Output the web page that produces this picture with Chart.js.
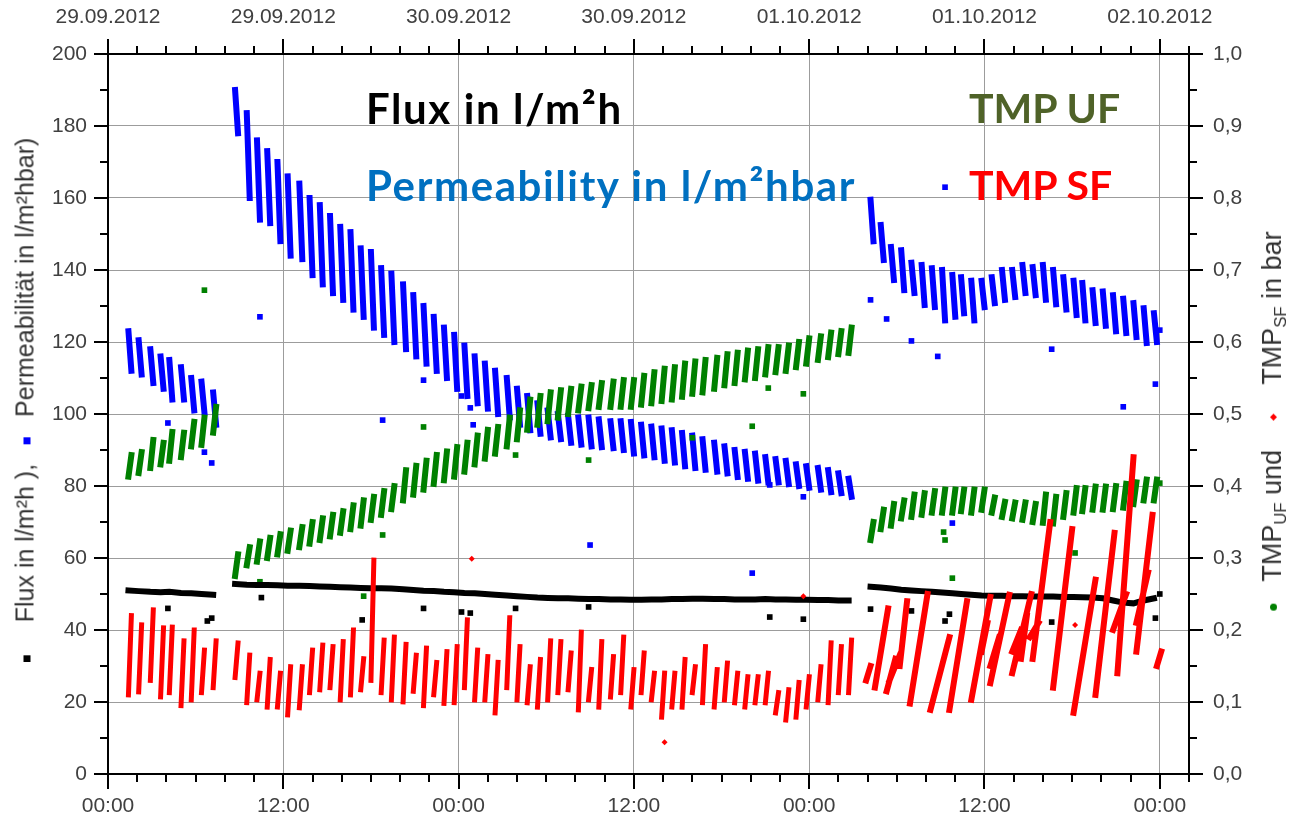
<!DOCTYPE html>
<html>
<head>
<meta charset="utf-8">
<script src="https://cdn.jsdelivr.net/npm/chart.js@4.4.1/dist/chart.umd.min.js"></script>
<style>
  body { margin:0; background:#fff; }
  #wrap { position:relative; width:1292px; height:821px; }
  canvas { position:absolute; left:0; top:0; }
  .note { position:absolute; font-family:Lato, 'Open Sans', sans-serif; font-weight:700; font-size:42px; line-height:48px; letter-spacing:1.6px; white-space:nowrap; }
  .atitle { position:absolute; font-family:'Liberation Sans', Arial, sans-serif; font-size:25px; color:#333; white-space:nowrap;
            transform:translate(-50%,-50%) rotate(-90deg); }
  .mk { display:inline-block; width:7px; height:7px; vertical-align:middle; }
  sub { font-size:0.62em; vertical-align:-0.3em; }
</style>
</head>
<body>
<div id="wrap">
  <canvas id="chart" width="1292" height="821"></canvas>
  <div class="note" style="left:366px;top:84px;color:#000">Flux in l/m²h</div>
  <div class="note" style="left:366px;top:161px;color:#0070c0">Permeability in l/m²hbar</div>
  <div class="note" style="left:969px;top:84px;color:#4f6228;font-size:41px;letter-spacing:0">TMP UF</div>
  <div class="note" style="left:969px;top:161px;color:#ff0000;font-size:41px;letter-spacing:0">TMP SF</div>
  <div class="atitle" style="left:25px;top:400px">
    <span class="mk" style="background:#000"></span><span style="margin:0 20px 0 33px">Flux in l/m²h ),</span><span class="mk" style="background:#0000ff"></span><span style="margin-left:20px">Permeabilität in l/m²hbar)</span>
  </div>
  <div class="atitle" style="left:1274px;top:421px;font-size:27px">
    <span class="mk" style="background:#008000;border-radius:50%"></span><span style="margin:0 30px 0 22px">TMP<sub>UF</sub> und</span><span class="mk" style="background:#ff0000;width:5px;height:5px;transform:rotate(45deg)"></span><span style="margin-left:30px">TMP<sub>SF</sub> in bar</span>
  </div>
</div>
<script>
// hours since 29.09.2012 00:00, one entry per filtration cycle
const cycleStart = [
  1.4, 2.1, 2.9, 3.6, 4.2, 5.0, 5.7, 6.4, 7.2,
  8.7, 9.5, 10.2, 10.9, 11.6, 12.3, 13.1, 13.8, 14.5, 15.2, 15.9, 16.6, 17.3, 18.0, 18.7, 19.4,
  20.2, 20.9, 21.6, 22.3, 23.0, 23.7, 24.4, 25.1, 25.8, 26.5, 27.3, 28.0, 28.7, 29.4, 30.1, 30.8,
  31.5, 32.2, 32.9, 33.6, 34.4, 35.1, 35.8, 36.5, 37.2, 37.9, 38.6, 39.3, 40.0, 40.7, 41.5, 42.2,
  42.9, 43.6, 44.3, 45.0, 45.7, 46.4, 47.1, 47.8, 48.6, 49.3, 50.0, 50.7,
  52.2, 52.9, 53.6, 54.3, 55.0, 55.7, 56.4, 57.1, 57.8, 58.4, 59.1, 59.8, 60.5, 61.2, 61.9, 62.6,
  63.3, 64.0, 64.7, 65.4, 66.1, 66.7, 67.4, 68.1, 68.8, 69.5, 70.2, 70.9, 71.6
];
const filtHours = 0.2;

// permeability l/m²hbar, value at cycle start / cycle end
const permStart = [
  123, 120.5, 118, 116, 115, 113, 110, 109, 106,
  190, 183.6, 176, 173, 170, 166, 164, 160, 158, 155, 152, 150.5, 146, 145, 140.5, 139,
  136, 133, 130, 127, 124, 122, 119, 116, 114, 112, 110, 107, 105, 103, 101, 100,
  99.5, 99, 99, 98.5, 98, 98, 97.8, 97, 96.5, 96, 95.5, 94.7, 94, 93, 92, 91,
  90, 89.5, 89, 88, 87.5, 87, 86, 85.5, 85, 84.4, 83.5, 82,
  159.5, 152.5, 146.4, 145.5, 142, 141.4, 140.5, 140, 138.6, 138, 137, 137, 138, 140, 140, 141.4,
  140.8, 141.4, 140, 138, 137, 136.4, 134.4, 134, 133, 132, 130.8, 129.4, 128
];
const permEnd = [
  112, 111, 108.6, 107, 104, 104, 101, 100.5, 97,
  178, 160, 154, 153, 148, 144, 143, 138.6, 136, 133.6, 131.7, 129, 127, 124, 122, 120,
  118, 116, 114, 112, 110, 107, 105, 103, 101.5, 100, 99, 97, 95.5, 94.5, 93.5, 93,
  92, 91.5, 91, 90.8, 90.5, 90, 89, 88.5, 88, 87, 86.5, 85.5, 85, 84.5, 84, 83.5,
  82.5, 82, 81.5, 81, 81, 80.5, 80, 79.5, 79, 78.3, 78, 77,
  148, 142.8, 137.2, 134.4, 133.6, 130.3, 129.7, 126, 127, 128, 126, 129.7, 130.8, 131.7, 132.5, 133.6,
  133, 131.7, 130.5, 129, 127.5, 126, 125.3, 124.5, 123, 122.5, 121.4, 119.7, 120
];

// TMP UF in bar
const ufStart = [
  0.413, 0.418, 0.425, 0.43, 0.435, 0.44, 0.455, 0.457, 0.474,
  0.275, 0.29, 0.295, 0.3, 0.305, 0.31, 0.315, 0.32, 0.325, 0.33, 0.335, 0.34, 0.345, 0.353, 0.36, 0.368,
  0.38, 0.388, 0.395, 0.403, 0.408, 0.413, 0.42, 0.43, 0.438, 0.445, 0.455, 0.465, 0.478, 0.485, 0.49, 0.495,
  0.5, 0.505, 0.508, 0.51, 0.51, 0.51, 0.51, 0.513, 0.515, 0.518, 0.52, 0.524, 0.528, 0.53, 0.535, 0.54,
  0.543, 0.548, 0.55, 0.555, 0.558, 0.56, 0.565, 0.57, 0.575, 0.579, 0.583, 0.585,
  0.325, 0.34, 0.345, 0.355, 0.357, 0.36, 0.363, 0.363, 0.363, 0.365, 0.363, 0.367, 0.363, 0.357, 0.355, 0.353,
  0.35, 0.349, 0.348, 0.357, 0.363, 0.365, 0.367, 0.367, 0.368, 0.37, 0.375, 0.38, 0.38
];
const ufEnd = [
  0.443, 0.447, 0.464, 0.46, 0.475, 0.474, 0.489, 0.495, 0.51,
  0.305, 0.315, 0.323, 0.328, 0.333, 0.338, 0.343, 0.35, 0.355, 0.36, 0.365, 0.373, 0.38, 0.385, 0.393, 0.4,
  0.422, 0.428, 0.435, 0.443, 0.448, 0.454, 0.46, 0.47, 0.478, 0.482, 0.495, 0.505, 0.52, 0.525, 0.53, 0.533,
  0.535, 0.538, 0.54, 0.543, 0.545, 0.547, 0.547, 0.553, 0.558, 0.563, 0.565, 0.57, 0.573, 0.575, 0.578, 0.583,
  0.585, 0.588, 0.59, 0.593, 0.593, 0.595, 0.6, 0.605, 0.608, 0.613, 0.615, 0.62,
  0.35, 0.367, 0.375, 0.38, 0.388, 0.39, 0.393, 0.395, 0.395, 0.395, 0.395, 0.395, 0.384, 0.378, 0.377, 0.377,
  0.375, 0.388, 0.385, 0.39, 0.397, 0.397, 0.399, 0.399, 0.4, 0.403, 0.405, 0.409, 0.409
];

// flux l/m²h, one value per cycle
const fluxVals = [
  51, 50.8, 50.6, 50.5, 50.6, 50.3, 50.2, 50, 49.8,
  52.8, 52.6, 52.5, 52.5, 52.4, 52.3, 52.3, 52.2, 52.1, 52.0, 51.9, 51.8, 51.7, 51.6, 51.6, 51.5,
  51.3, 51.1, 50.9, 50.8, 50.6, 50.5, 50.3, 50.2, 50.0, 49.8, 49.6, 49.4, 49.2, 49.0, 48.9, 48.8,
  48.8, 48.7, 48.6, 48.6, 48.5, 48.5, 48.4, 48.4, 48.5, 48.5, 48.6, 48.6, 48.7, 48.7, 48.6, 48.6,
  48.5, 48.5, 48.5, 48.6, 48.5, 48.5, 48.4, 48.4, 48.3, 48.3, 48.2, 48.2,
  52, 51.8, 51.5, 51.2, 51, 50.8, 50.6, 50.4, 50.2, 50, 49.8, 49.6, 49.5, 49.5, 49.4, 49.4,
  49.3, 49.3, 49.3, 49.2, 49.2, 49.1, 49, 48.8, 48.2, 47.6, 47.4, 48.2, 48.8
];

// TMP SF in bar, first 69 cycles (until 01.10. ~03:00)
const sfStart = [
  0.11, 0.114, 0.13, 0.107, 0.113, 0.095, 0.103, 0.113, 0.12,
  0.134, 0.099, 0.103, 0.093, 0.093, 0.082, 0.092, 0.113, 0.117, 0.12, 0.103, 0.11, 0.117, 0.13, 0.113, 0.103,
  0.1, 0.115, 0.095, 0.11, 0.098, 0.099, 0.12, 0.103, 0.103, 0.085, 0.12, 0.103, 0.099, 0.093, 0.103, 0.113,
  0.117, 0.089, 0.103, 0.093, 0.107, 0.113, 0.093, 0.113, 0.103, 0.079, 0.093, 0.093, 0.113, 0.099, 0.093, 0.103,
  0.099, 0.093, 0.099, 0.099, 0.085, 0.075, 0.079, 0.093, 0.103, 0.099, 0.113, 0.113
];
const sfEnd = [
  0.22, 0.207, 0.228, 0.203, 0.204, 0.185, 0.2, 0.172, 0.185,
  0.182, 0.165, 0.14, 0.159, 0.14, 0.149, 0.149, 0.172, 0.179, 0.177, 0.184, 0.2, 0.16, 0.297, 0.186, 0.19,
  0.18, 0.165, 0.175, 0.155, 0.17, 0.177, 0.214, 0.172, 0.163, 0.155, 0.217, 0.177, 0.149, 0.159, 0.185, 0.184,
  0.168, 0.197, 0.145, 0.184, 0.163, 0.19, 0.145, 0.168, 0.14, 0.14, 0.14, 0.159, 0.149, 0.177, 0.145, 0.154,
  0.14, 0.135, 0.135, 0.14, 0.113, 0.117, 0.127, 0.135, 0.149, 0.182, 0.177, 0.186
];
// TMP SF after the restart, longer rising runs
const sf3From = [51.9, 52.5, 53.3, 53.5, 54.2, 54.9, 56.3, 57.6, 59.1, 59.8, 60.4, 60.4, 61.9, 61.9, 62.5, 63.1, 63.3, 64.7, 66.1, 67.6, 68.8, 69.1, 70.4, 70.4, 71.8];
const sf3To   = [52.2, 53.4, 53.9, 54.2, 54.7, 56.1, 57.6, 58.8, 60.4, 60.2, 61.7, 61.0, 63.2, 62.5, 62.9, 63.7, 64.5, 66.0, 67.6, 68.9, 69.7, 70.2, 71.5, 71.2, 72.1];
const sf3Lo   = [0.13, 0.12, 0.115, 0.13, 0.15, 0.098, 0.089, 0.089, 0.103, 0.17, 0.126, 0.15, 0.14, 0.17, 0.16, 0.19, 0.16, 0.12, 0.085, 0.11, 0.2, 0.14, 0.17, 0.21, 0.15];
const sf3Hi   = [0.15, 0.23, 0.16, 0.165, 0.24, 0.25, 0.19, 0.24, 0.246, 0.21, 0.249, 0.19, 0.25, 0.2, 0.22, 0.21, 0.35, 0.34, 0.27, 0.335, 0.25, 0.44, 0.36, 0.28, 0.17];

// single scattered readings
const fluxOutT = [4.1, 6.8, 7.1, 10.5, 17.4, 21.6, 24.2, 24.8, 27.9, 32.9, 45.3, 47.6, 52.2, 55.0, 57.3, 57.6, 64.6, 71.7, 72.0];
const fluxOutV = [46, 42.5, 43.3, 49, 42.8, 46, 45, 44.7, 46, 46.4, 43.6, 43, 45.8, 45.3, 42.5, 44.4, 42.2, 43.3, 50];
const permOutT = [4.1, 6.6, 7.1, 10.4, 18.8, 21.6, 24.2, 24.8, 25.0, 33.0, 44.1, 45.3, 47.6, 52.2, 53.3, 55.0, 56.8, 57.3, 57.8, 64.6, 69.5, 71.7, 72.0];
const permOutV = [97.5, 89.4, 86.4, 127, 98.3, 109.4, 105, 101.7, 97, 63.6, 55.8, 80.3, 77, 131.7, 126.4, 120.3, 116, 163, 69.7, 118, 102, 108.3, 123.3];
const ufOutT = [6.6, 10.4, 17.5, 18.8, 21.6, 27.9, 32.9, 40.0, 44.1, 45.2, 47.6, 57.2, 57.3, 57.8, 66.2, 72.0];
const ufOutV = [0.672, 0.267, 0.247, 0.332, 0.482, 0.443, 0.436, 0.467, 0.483, 0.536, 0.528, 0.336, 0.325, 0.272, 0.307, 0.404];
const sfOutT = [24.9, 38.1, 47.6, 66.2];
const sfOutV = [0.299, 0.044, 0.247, 0.207];

// axis labels
const timeTicks = ['00:00', '12:00', '00:00', '12:00', '00:00', '12:00', '00:00'];
const dateTicks = ['29.09.2012', '29.09.2012', '30.09.2012', '30.09.2012', '01.10.2012', '01.10.2012', '02.10.2012'];

function runs(from, to, v0, v1){
  const pts = [];
  from.forEach((t, i) => {
    pts.push({x:t, y:v0[i]}, {x:to[i], y:v1[i]}, {x:to[i], y:null});
  });
  return pts;
}
const cycleEnd = cycleStart.map(t => t + filtHours);
const pair = (ts, vs) => ts.map((t, i) => ({x:t, y:vs[i]}));

const fluxLine = [];
cycleStart.forEach((t, i) => {
  if (i > 0 && t - cycleStart[i-1] > 1) fluxLine.push({x:t, y:null});
  fluxLine.push({x:t, y:fluxVals[i]});
});

const teeth = (color, width) => ({ type:'line', borderColor:color, backgroundColor:color, borderWidth:width,
  borderCapStyle:'square', pointRadius:0, pointHoverRadius:0, spanGaps:false, tension:0 });
const dots = (color, style, r) => ({ type:'scatter', showLine:false, pointStyle:style, pointRadius:r,
  pointBackgroundColor:color, pointBorderColor:color, pointBorderWidth:0 });

const tickFont = { family:'Liberation Sans, Arial, sans-serif', size:21 };
const tickColor = '#404040';

const axisTicks = {
  id:'axisTicks',
  afterDraw(chart){
    const { ctx, chartArea:a, scales } = chart;
    ctx.save();
    ctx.strokeStyle = '#000';
    ctx.lineWidth = 2;
    const mark = (x1, y1, x2, y2) => { ctx.beginPath(); ctx.moveTo(x1, y1); ctx.lineTo(x2, y2); ctx.stroke(); };
    for (let h = 0; h <= 74; h += 2) {
      const x = Math.round(scales.x.getPixelForValue(h));
      const len = h % 12 === 0 ? 15 : 8;
      mark(x, a.bottom, x, a.bottom + len);
      mark(x, a.top, x, a.top - len);
    }
    for (let i = 0; i <= 20; i++) {
      const yl = Math.round(scales.y.getPixelForValue(i * 10));
      const yr = Math.round(scales.y2.getPixelForValue(i * 0.05));
      const len = i % 2 === 0 ? 14 : 8;
      mark(a.left, yl, a.left - len, yl);
      mark(a.right, yr, a.right + len, yr);
    }
    ctx.restore();
  }
};

new Chart(document.getElementById('chart'), {
  data: {
    datasets: [
      { ...teeth('#ff0000', 5), yAxisID:'y2', data:runs(cycleStart.slice(0, 69), cycleEnd.slice(0, 69), sfStart, sfEnd) },
      { ...teeth('#ff0000', 6), yAxisID:'y2', data:runs(sf3From, sf3To, sf3Lo, sf3Hi) },
      { ...dots('#ff0000', 'rectRot', 3), yAxisID:'y2', data:pair(sfOutT, sfOutV) },
      { ...teeth('#000000', 6), yAxisID:'y', data:fluxLine },
      { ...dots('#000000', 'rect', 4), yAxisID:'y', data:pair(fluxOutT, fluxOutV) },
      { ...teeth('#008000', 6), yAxisID:'y2', data:runs(cycleStart, cycleEnd, ufStart, ufEnd) },
      { ...dots('#008000', 'rect', 4), yAxisID:'y2', data:pair(ufOutT, ufOutV) },
      { ...teeth('#0000ff', 6), yAxisID:'y', data:runs(cycleStart, cycleEnd, permStart, permEnd) },
      { ...dots('#0000ff', 'rect', 4), yAxisID:'y', data:pair(permOutT, permOutV) }
    ]
  },
  options: {
    responsive:false,
    animation:false,
    events:[],
    layout:{ padding:0 },
    plugins:{ legend:{ display:false }, tooltip:{ enabled:false } },
    scales: {
      x: {
        type:'linear', position:'bottom', min:0, max:74,
        afterFit: s => { s.height = 47; },
        border:{ display:true, color:'#000', width:2 },
        grid:{ color:'#9c9c9c', lineWidth:1, drawTicks:false },
        ticks:{ stepSize:12, includeBounds:false, autoSkip:false, maxRotation:0, padding:20,
                font:tickFont, color:tickColor, callback: v => timeTicks[v / 12] }
      },
      xTop: {
        type:'linear', axis:'x', position:'top', min:0, max:74,
        afterFit: s => { s.height = 54; },
        border:{ display:true, color:'#000', width:2 },
        grid:{ display:false, drawTicks:false },
        ticks:{ stepSize:12, includeBounds:false, autoSkip:false, maxRotation:0, padding:24,
                font:tickFont, color:tickColor, callback: v => dateTicks[v / 12] }
      },
      y: {
        type:'linear', position:'left', min:0, max:200,
        afterFit: s => { s.width = 108; },
        border:{ display:true, color:'#000', width:2 },
        grid:{ color:'#9c9c9c', lineWidth:1, drawTicks:false },
        ticks:{ stepSize:20, padding:21, font:tickFont, color:tickColor }
      },
      y2: {
        type:'linear', position:'right', min:0, max:1,
        afterFit: s => { s.width = 103; },
        border:{ display:true, color:'#000', width:2 },
        grid:{ display:false, drawTicks:false },
        ticks:{ stepSize:0.1, padding:24, font:tickFont, color:tickColor,
                callback: v => v.toFixed(1).replace('.', ',') }
      }
    }
  },
  plugins:[axisTicks]
});
</script>
</body>
</html>
